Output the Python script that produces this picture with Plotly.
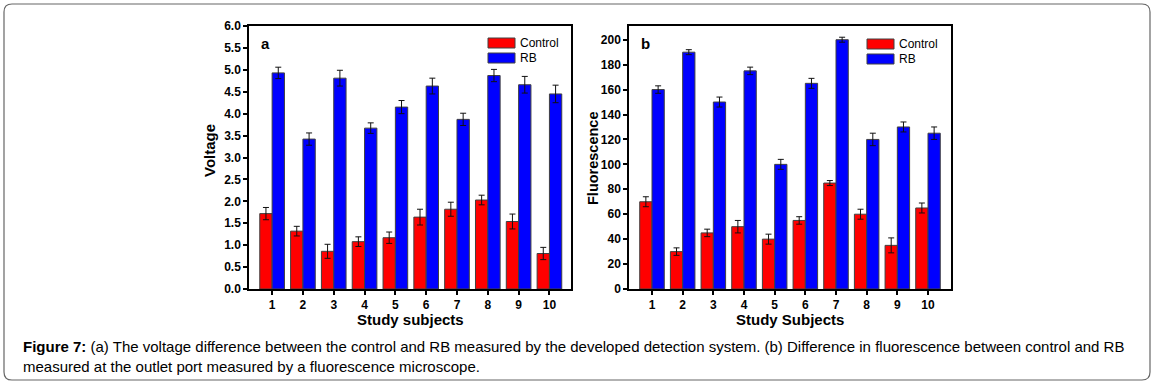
import plotly.graph_objects as go

subjects = [1, 2, 3, 4, 5, 6, 7, 8, 9, 10]

# Panel a: Voltage
volt_control = [1.72, 1.32, 0.86, 1.08, 1.17, 1.64, 1.82, 2.03, 1.54, 0.81]
volt_control_err = [0.14, 0.11, 0.16, 0.11, 0.13, 0.18, 0.16, 0.11, 0.17, 0.14]
volt_rb = [4.93, 3.42, 4.81, 3.67, 4.15, 4.63, 3.87, 4.87, 4.66, 4.45]
volt_rb_err = [0.13, 0.14, 0.18, 0.12, 0.15, 0.18, 0.14, 0.14, 0.19, 0.20]

# Panel b: Fluorescence
fl_control = [70, 30, 45, 50, 40, 55, 85, 60, 35, 65]
fl_control_err = [4, 3, 3, 5, 4, 3, 2, 4, 6, 4]
fl_rb = [160, 190, 150, 175, 100, 165, 200, 120, 130, 125]
fl_rb_err = [3, 2, 4, 3, 4, 4, 2, 5, 4, 5]

series_names = ["Control", "RB"]
series_colors = ["#ff0000", "#0000ff"]

W, H = 1154, 386
FONT = "Liberation Sans, Arial, sans-serif"

fig = go.Figure()

def add_bars(xa, ya, ctrl, ctrl_err, rb, rb_err):
    for name, color, vals, errs in [
        (series_names[0], series_colors[0], ctrl, ctrl_err),
        (series_names[1], series_colors[1], rb, rb_err),
    ]:
        fig.add_trace(go.Bar(
            x=subjects, y=vals, name=name, xaxis=xa, yaxis=ya,
            marker=dict(color=color, line=dict(color="#404040", width=1)),
            error_y=dict(type="data", array=errs, visible=True,
                         color="#111111", thickness=1, width=3),
            showlegend=False,
        ))

add_bars("x", "y", volt_control, volt_control_err, volt_rb, volt_rb_err)
add_bars("x2", "y2", fl_control, fl_control_err, fl_rb, fl_rb_err)

def px_x(p):
    return p / W

def px_y(p):
    return (H - p) / H

ydom = [px_y(289), px_y(26)]
xdom_a = [px_x(249), px_x(571)]
xdom_b = [px_x(629), px_x(951)]

tickfont = dict(family=FONT, size=12, color="black")
axis_common = dict(showline=True, linecolor="black", linewidth=1.5, mirror=True,
                   ticks="outside", ticklen=4, tickwidth=1.5, tickcolor="black",
                   showgrid=False, zeroline=False, tickfont=tickfont, automargin=False)

fig.update_layout(
    width=W, height=H,
    margin=dict(l=0, r=0, t=0, b=0, pad=0, autoexpand=False),
    paper_bgcolor="white", plot_bgcolor="white",
    barmode="group", bargap=0.2, bargroupgap=0,
    font=dict(family=FONT, color="black"),
    xaxis=dict(domain=xdom_a, anchor="y", range=[0.25, 10.7],
               tickvals=subjects, ticktext=[f"<b>{s}</b>" for s in subjects], **axis_common),
    yaxis=dict(domain=ydom, anchor="x", range=[0, 6], dtick=0.5, tickformat=".1f",
               tickprefix="<b>", ticksuffix="</b>", **axis_common),
    xaxis2=dict(domain=xdom_b, anchor="y2", range=[0.25, 10.75],
                tickvals=subjects, ticktext=[f"<b>{s}</b>" for s in subjects], **axis_common),
    yaxis2=dict(domain=ydom, anchor="x2", range=[0, 211], dtick=20,
                tickprefix="<b>", ticksuffix="</b>", **axis_common),
)

annotations = []
shapes = []

def axis_titles(xc, ytitle_x, ytitle_y, ytitle, xtitle, ysize):
    annotations.append(dict(xref="paper", yref="paper", x=px_x(xc), y=px_y(319),
                            text=f"<b>{xtitle}</b>", showarrow=False,
                            font=dict(family=FONT, size=15, color="black"),
                            xanchor="center", yanchor="middle", borderpad=0))
    annotations.append(dict(xref="paper", yref="paper", x=px_x(ytitle_x), y=px_y(ytitle_y),
                            text=f"<b>{ytitle}</b>", showarrow=False, textangle=-90,
                            font=dict(family=FONT, size=ysize, color="black"),
                            xanchor="center", yanchor="middle", borderpad=0))

axis_titles((249 + 571) / 2, 210, 151, "Voltage", "Study subjects", 15)
axis_titles((629 + 951) / 2, 593, 158, "Fluorescence", "Study Subjects", 14.5)

def panel_label(xa, text):
    annotations.append(dict(xref=f"{xa} domain", yref="y domain", x=0.03, y=0.975,
                            text=f"<b>{text}</b>", showarrow=False,
                            font=dict(family=FONT, size=15, color="black"),
                            xanchor="left", yanchor="top"))

panel_label("x", "a")
panel_label("x2", "b")

def legend(xleft_px, ytop_px):
    for i, (name, color) in enumerate(zip(series_names, series_colors)):
        y0 = ytop_px + i * 15
        shapes.append(dict(type="rect", xref="paper", yref="paper",
                           x0=px_x(xleft_px), x1=px_x(xleft_px + 27),
                           y0=px_y(y0 + 10), y1=px_y(y0),
                           fillcolor=color, line=dict(color="#404040", width=1)))
        annotations.append(dict(xref="paper", yref="paper", x=px_x(xleft_px + 30),
                                y=px_y(y0 + 5), text=name, showarrow=False,
                                font=dict(family=FONT, size=12, color="black"),
                                xanchor="left", yanchor="middle"))

legend(488, 38)
legend(867, 39)

# caption
annotations.append(dict(xref="paper", yref="paper", x=px_x(21), y=px_y(336),
                        text="<b>Figure 7:</b> (a) The voltage difference between the control and RB measured by the developed detection system. (b) Difference in fluorescence between control and RB<br>measured at the outlet port measured by a fluorescence microscope.",
                        showarrow=False, align="left",
                        font=dict(family=FONT, size=15, color="black"),
                        xanchor="left", yanchor="top"))

# rounded outer frame
x0, x1 = 4, 1150
y0, y1 = 4, 380
r = 8
path = (f"M {px_x(x0 + r)},{px_y(y0)} L {px_x(x1 - r)},{px_y(y0)} "
        f"Q {px_x(x1)},{px_y(y0)} {px_x(x1)},{px_y(y0 + r)} "
        f"L {px_x(x1)},{px_y(y1 - r)} Q {px_x(x1)},{px_y(y1)} {px_x(x1 - r)},{px_y(y1)} "
        f"L {px_x(x0 + r)},{px_y(y1)} Q {px_x(x0)},{px_y(y1)} {px_x(x0)},{px_y(y1 - r)} "
        f"L {px_x(x0)},{px_y(y0 + r)} Q {px_x(x0)},{px_y(y0)} {px_x(x0 + r)},{px_y(y0)} Z")
shapes.append(dict(type="path", xref="paper", yref="paper", path=path,
                   line=dict(color="#666666", width=1.2)))

fig.update_layout(annotations=annotations, shapes=shapes)

fig.write_html("out.html", config={"displayModeBar": False})

# remove the default page margin so the figure sits at the window's top-left corner
with open("out.html", "r", encoding="utf-8") as f:
    html = f.read()
html = html.replace("<head>", "<head><style>html,body{margin:0;padding:0;overflow:hidden;}</style>", 1)
with open("out.html", "w", encoding="utf-8") as f:
    f.write(html)
